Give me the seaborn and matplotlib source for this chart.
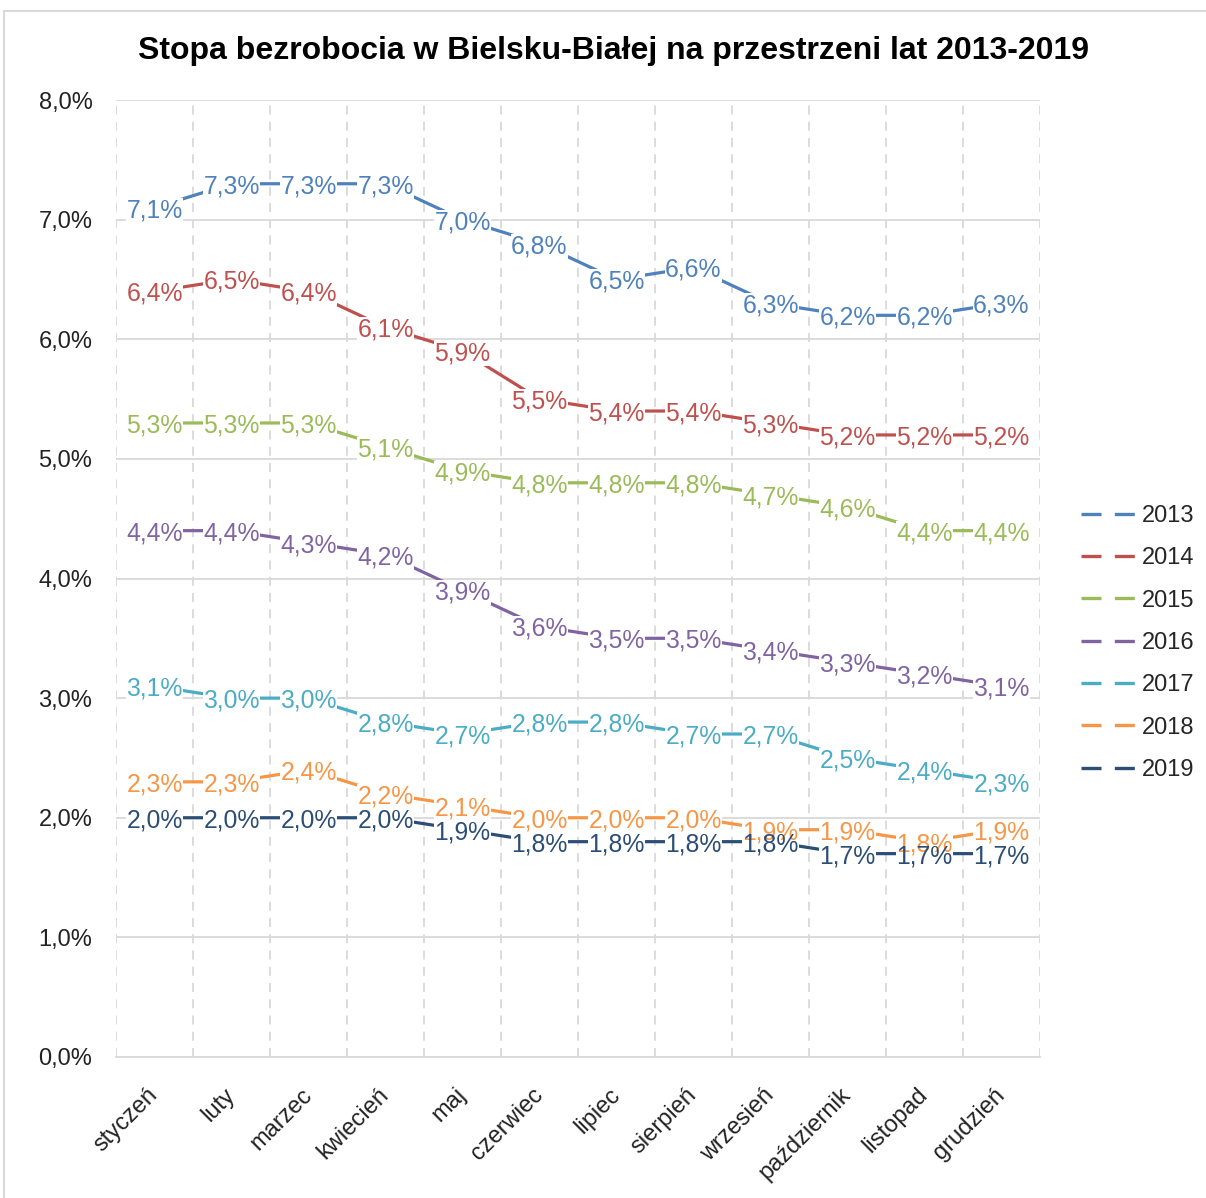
import matplotlib
matplotlib.use("Agg")
import matplotlib.pyplot as plt
from matplotlib.lines import Line2D
from matplotlib.patches import Rectangle
import seaborn as sns
import pandas as pd
import numpy as np

months = ["styczeń", "luty", "marzec", "kwiecień", "maj", "czerwiec", "lipiec",
          "sierpień", "wrzesień", "październik", "listopad", "grudzień"]
years = ["2013", "2014", "2015", "2016", "2017", "2018", "2019"]
r2013 = [7.1, 7.3, 7.3, 7.3, 7.0, 6.8, 6.5, 6.6, 6.3, 6.2, 6.2, 6.3]
r2014 = [6.4, 6.5, 6.4, 6.1, 5.9, 5.5, 5.4, 5.4, 5.3, 5.2, 5.2, 5.2]
r2015 = [5.3, 5.3, 5.3, 5.1, 4.9, 4.8, 4.8, 4.8, 4.7, 4.6, 4.4, 4.4]
r2016 = [4.4, 4.4, 4.3, 4.2, 3.9, 3.6, 3.5, 3.5, 3.4, 3.3, 3.2, 3.1]
r2017 = [3.1, 3.0, 3.0, 2.8, 2.7, 2.8, 2.8, 2.7, 2.7, 2.5, 2.4, 2.3]
r2018 = [2.3, 2.3, 2.4, 2.2, 2.1, 2.0, 2.0, 2.0, 1.9, 1.9, 1.8, 1.9]
r2019 = [2.0, 2.0, 2.0, 2.0, 1.9, 1.8, 1.8, 1.8, 1.8, 1.7, 1.7, 1.7]
series = [r2013, r2014, r2015, r2016, r2017, r2018, r2019]
colors = ["#4F81BD", "#C0504D", "#9BBB59", "#8064A2", "#4BACC6", "#F79646", "#2C4D75"]
yticks = [0, 1, 2, 3, 4, 5, 6, 7, 8]

rows = []
for y, vals in zip(years, series):
    for i, v in enumerate(vals):
        rows.append({"rok": y, "pos": i, "stopa": v})
df = pd.DataFrame(rows)

sns.set_theme(style="white")
plt.rcParams["font.family"] = ["Liberation Sans", "DejaVu Sans"]

fig = plt.figure(figsize=(12.06, 11.98), dpi=100)
ax = fig.add_axes([116/1206, 1 - 1057/1198, (1040-116)/1206, (1057-100)/1198])

palette = dict(zip(years, colors))
sns.lineplot(data=df, x="pos", y="stopa", hue="rok", palette=palette, sort=False,
             linewidth=2.3, legend=False, ax=ax, zorder=2)

# data labels: white knock-out boxes first, then text on top
LBL = 17.8
for y, vals, c in zip(years, series, colors):
    for i, v in enumerate(vals):
        s = f"{v:.1f}%".replace(".", ",")
        ax.text(i, v, s, ha="center", va="center_baseline", fontsize=LBL, color="none",
                zorder=3, bbox=dict(boxstyle="square,pad=0.02", fc="white", ec="none"))
for y, vals, c in zip(years, series, colors):
    for i, v in enumerate(vals):
        s = f"{v:.1f}%".replace(".", ",")
        ax.text(i, v, s, ha="center", va="center_baseline", fontsize=LBL, color=c, zorder=4)

ax.set_xlim(-0.5, 11.5)
ax.set_ylim(0, 8)
ax.set_yticks(yticks)
ax.set_yticklabels([f"{t:.1f}%".replace(".", ",") for t in yticks], fontsize=17, color="#222222")
ax.set_xticks(range(12))
ax.set_xticklabels(months, fontsize=17, color="#222222", rotation=45, ha="right",
                   rotation_mode="anchor", va="center")
ax.set_xticks(np.arange(-0.5, 12, 1), minor=True)
ax.tick_params(axis="y", length=0, pad=17)
ax.tick_params(axis="x", which="both", length=0, pad=25)
ax.grid(False)
ax.yaxis.grid(True, color="#d9d9d9", linewidth=1.3, zorder=0)
ax.xaxis.grid(True, which="minor", color="#d9d9d9", linewidth=1.3,
              linestyle=(0, (5, 4)), zorder=0)
ax.set_axisbelow(True)
for sp in ["top", "right", "left"]:
    ax.spines[sp].set_visible(False)
ax.spines["bottom"].set_color("#d9d9d9")
ax.spines["bottom"].set_linewidth(1.3)
ax.set_xlabel("")
ax.set_ylabel("")

handles = [Line2D([0], [0], color=c, linewidth=2.4, linestyle=(0, (6.0, 4.0)),
                  dash_capstyle="butt") for c in colors]
leg = fig.legend(handles, years, loc="center left", bbox_to_anchor=(1072/1206, 1 - 643/1198),
                 frameon=False, fontsize=17, handlelength=2.35, handletextpad=0.2,
                 labelspacing=0.86, borderaxespad=0)

fig.text(614/1206, 1 - 51/1198, "Stopa bezrobocia w Bielsku-Białej na przestrzeni lat 2013-2019",
         ha="center", va="center", fontsize=23, fontweight="bold", color="black")

fig.patches.append(Rectangle((4/1206, -0.01), 1.02, 1 - 11/1198 + 0.01, transform=fig.transFigure,
                             fill=False, edgecolor="#d9d9d9", linewidth=1.5))

fig.savefig("out.png", dpi=100)
